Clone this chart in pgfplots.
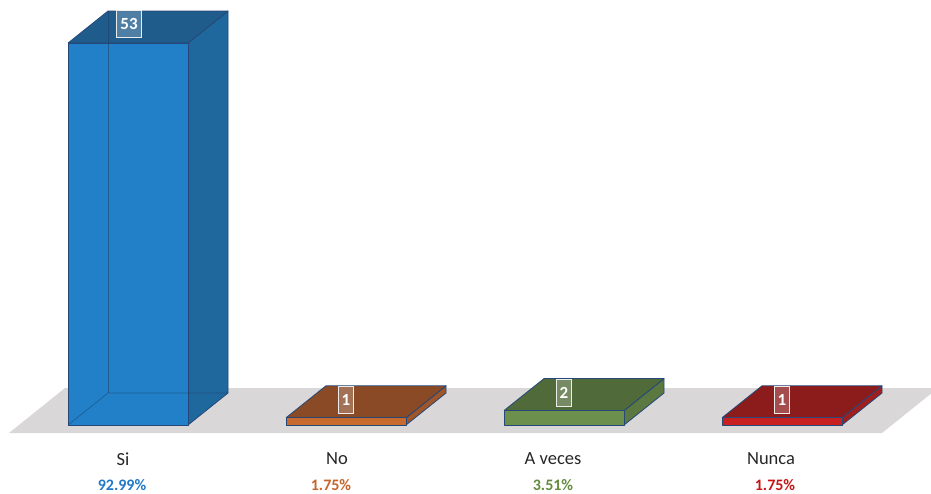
\documentclass[border=0pt]{standalone}
\usepackage{pgfplots}
\pgfplotsset{compat=1.18}
\usepackage{fontspec}
\setmainfont{Carlito}
\definecolor{floor}{RGB}{217,215,216}
\definecolor{edge}{RGB}{38,72,120}
\definecolor{bF}{RGB}{33,128,199}\definecolor{bT}{RGB}{31,92,140}\definecolor{bS}{RGB}{31,104,158}
\definecolor{oF}{RGB}{200,105,45}\definecolor{oT}{RGB}{138,74,38}\definecolor{oS}{RGB}{160,85,40}
\definecolor{gF}{RGB}{108,143,78}\definecolor{gT}{RGB}{80,107,57}\definecolor{gS}{RGB}{90,120,64}
\definecolor{rF}{RGB}{200,32,32}\definecolor{rT}{RGB}{140,28,28}\definecolor{rS}{RGB}{160,30,30}
\definecolor{pB}{RGB}{31,120,200}\definecolor{pO}{RGB}{200,100,40}\definecolor{pG}{RGB}{100,140,60}\definecolor{pR}{RGB}{200,20,20}
\tikzset{face/.style={draw=edge, line width=0.8pt, line join=round},
  hid/.style={draw=edge!85!black, line width=0.6pt, opacity=0.55},
  val/.style={draw=white!85!gray, fill=white, fill opacity=0.22, text opacity=1, text=white, font=\fontsize{17}{17}\selectfont\bfseries, minimum height=27pt, inner xsep=3.5pt, line width=0.8pt}}
\begin{document}
\begin{tikzpicture}
\begin{axis}[
  scale only axis, width=931pt, height=493pt,
  xmin=0, xmax=931, ymin=-9.435, ymax=58.97,
  ticks=none, axis line style={draw=none},
  clip=true,
]
% floor
\addplot[fill=floor, draw=none] coordinates {(9,-1.11) (882,-1.11) (938,5.13) (65,5.13) (9,-1.11)};
% --- Si (53) ---
\addplot[face, fill=bS] coordinates {(188,0) (228,4.44) (228,57.44) (188,53) (188,0)};
\addplot[face, fill=bT] coordinates {(68,53) (188,53) (228,57.44) (108,57.44) (68,53)};
\addplot[ybar, bar width=120, bar shift=0pt, face, fill=bF] coordinates {(128,53)};
\addplot[hid] coordinates {(68,0) (108,4.44) (228,4.44)};
\addplot[hid] coordinates {(108,4.44) (108,57.44)};
% --- No (1) ---
\addplot[face, fill=oS] coordinates {(406,0) (446,4.44) (446,5.44) (406,1) (406,0)};
\addplot[face, fill=oT] coordinates {(286,1) (406,1) (446,5.44) (326,5.44) (286,1)};
\addplot[ybar, bar width=120, bar shift=0pt, face, fill=oF] coordinates {(346,1)};
% --- A veces (2) ---
\addplot[face, fill=gS] coordinates {(624,0) (664,4.44) (664,6.44) (624,2) (624,0)};
\addplot[face, fill=gT] coordinates {(504,2) (624,2) (664,6.44) (544,6.44) (504,2)};
\addplot[ybar, bar width=120, bar shift=0pt, face, fill=gF] coordinates {(564,2)};
% --- Nunca (1) ---
\addplot[face, fill=rS] coordinates {(842,0) (882,4.44) (882,5.44) (842,1) (842,0)};
\addplot[face, fill=rT] coordinates {(722,1) (842,1) (882,5.44) (762,5.44) (722,1)};
\addplot[ybar, bar width=120, bar shift=0pt, face, fill=rF] coordinates {(782,1)};
% value labels
\node[val] at (axis cs:129,55.6) {53};
\node[val] at (axis cs:346,3.5) {1};
\node[val] at (axis cs:564,4.5) {2};
\node[val] at (axis cs:782,3.5) {1};
% category labels
\begin{scope}[every node/.style={font=\fontsize{18.5}{18.5}\selectfont, text=black!85}]
\node at (axis cs:123,-4.72) {Si};
\node at (axis cs:337,-4.72) {No};
\node at (axis cs:553,-4.72) {A veces};
\node at (axis cs:771,-4.72) {Nunca};
\end{scope}
\begin{scope}[every node/.style={font=\fontsize{16}{16}\selectfont\bfseries}]
\node[text=pB] at (axis cs:122,-8.32) {92.99\%};
\node[text=pO] at (axis cs:331,-8.32) {1.75\%};
\node[text=pG] at (axis cs:553,-8.32) {3.51\%};
\node[text=pR] at (axis cs:775,-8.32) {1.75\%};
\end{scope}
\end{axis}
\end{tikzpicture}
\end{document}
